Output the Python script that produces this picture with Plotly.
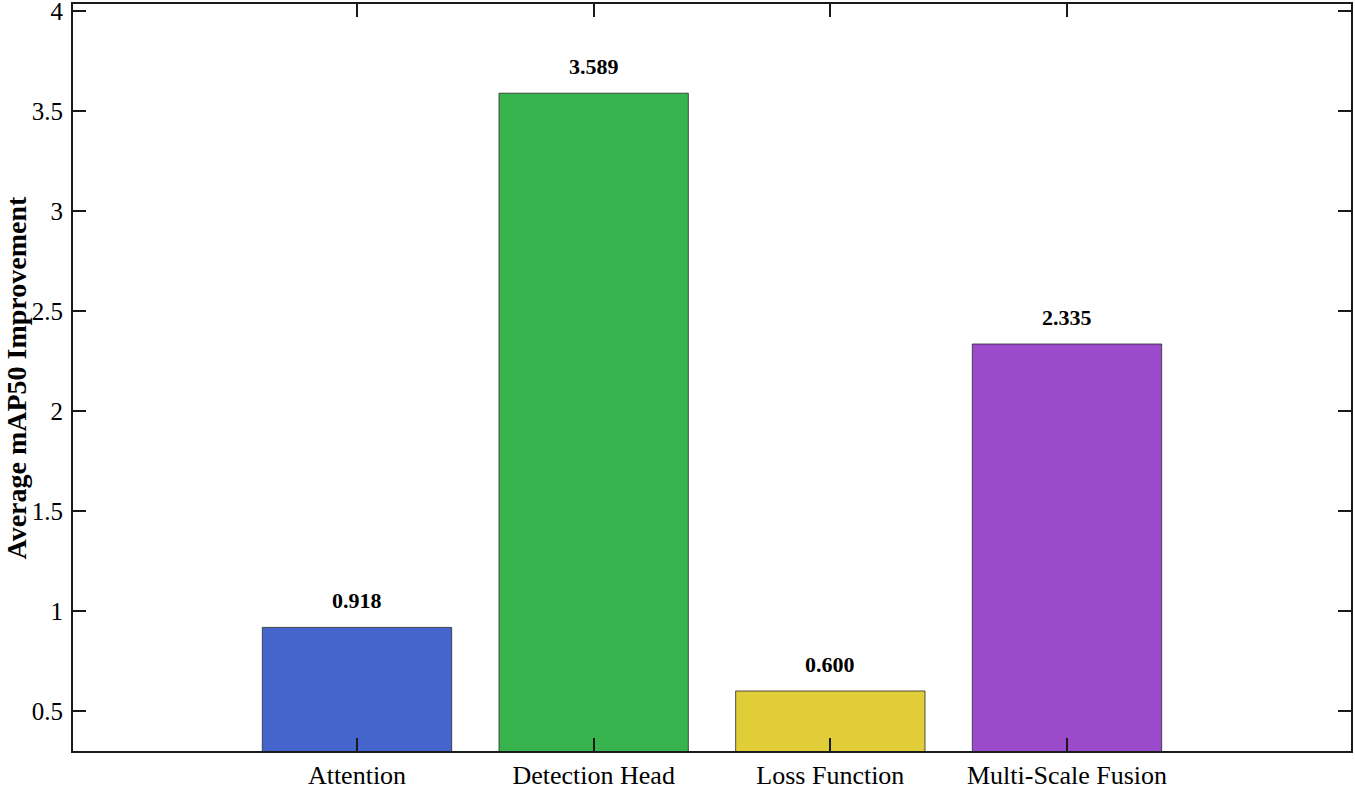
import plotly.graph_objects as go

categories = ["Attention", "Detection Head", "Loss Function", "Multi-Scale Fusion"]
values = [0.918, 3.589, 0.600, 2.335]
colors = ["#4466CC", "#38B44F", "#E0CD38", "#9A4ACB"]
ytick_vals = [0.5, 1, 1.5, 2, 2.5, 3, 3.5, 4]
ytick_text = ["0.5", "1", "1.5", "2", "2.5", "3", "3.5", "4"]

xpos = list(range(len(categories)))
FONT = "Liberation Serif, Times New Roman, serif"

fig = go.Figure()
fig.add_trace(go.Bar(
    x=xpos, y=values, width=0.8,
    marker=dict(color=colors, line=dict(color="rgba(40,40,40,0.8)", width=1)),
    showlegend=False, hoverinfo="skip",
))

for xi, v in zip(xpos, values):
    fig.add_annotation(x=xi, y=v, text=f"<b>{v:.3f}</b>", showarrow=False,
                       yshift=27, font=dict(family=FONT, size=22, color="black"))

fig.add_annotation(xref="paper", yref="paper", x=(16 - 73) / 1278, y=0.5,
                   text="<b>Average mAP50 Improvement</b>", textangle=-90,
                   showarrow=False, xanchor="center", yanchor="middle",
                   font=dict(family=FONT, size=28, color="black"))

axis_common = dict(showline=True, linecolor="#1a1a1a", linewidth=2, mirror="ticks",
                   ticks="inside", ticklen=13, tickwidth=2, tickcolor="#1a1a1a",
                   showgrid=False, zeroline=False, layer="above traces",
                   ticklabeloverflow="allow")

fig.update_layout(
    width=1355, height=785,
    margin=dict(l=73, r=4, t=4, b=34, autoexpand=False),
    paper_bgcolor="white", plot_bgcolor="white",
    xaxis=dict(range=[-1.2, 4.2], tickvals=xpos, ticktext=categories,
               ticklabelstandoff=0,
               tickfont=dict(family=FONT, size=26, color="black"), **axis_common),
    yaxis=dict(range=[0.3, 4.035], tickvals=ytick_vals, ticktext=ytick_text,
               ticklabelstandoff=3,
               tickfont=dict(family=FONT, size=25, color="black"), **axis_common),
)

fig.write_html("out.html", config={"displayModeBar": False},
               post_script="document.body.style.margin='0';document.body.style.overflow='hidden';")
